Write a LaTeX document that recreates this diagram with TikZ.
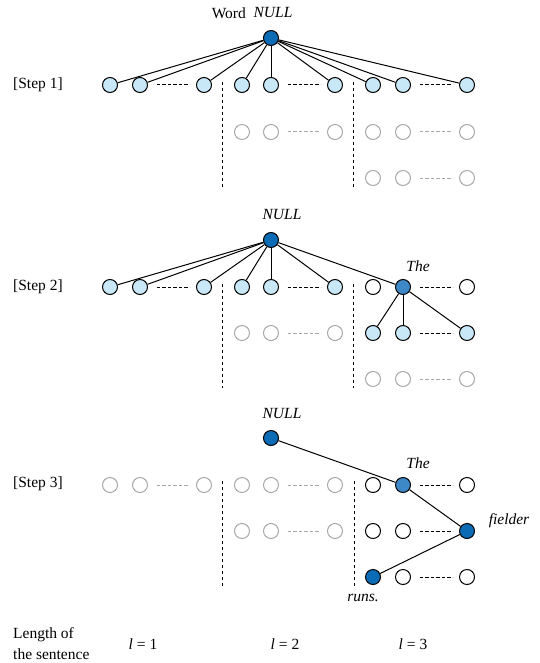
\documentclass[tikz,border=0pt]{standalone}
\usepackage{fontspec}
\setmainfont{Liberation Serif}
\definecolor{darkb}{HTML}{0B6BB5}
\definecolor{midb}{HTML}{3D89C8}
\definecolor{lightb}{HTML}{C8E8F8}
\definecolor{grayc}{HTML}{A8A8A8}
\begin{document}
\begin{tikzpicture}[x=1pt,y=-1pt,
  nd/.style={circle, draw=black, line width=1pt, minimum size=15pt, inner sep=0pt},
  lb/.style={nd, fill=lightb},
  gr/.style={nd, draw=grayc, fill=white},
  wh/.style={nd, fill=white},
  db/.style={nd, fill=darkb},
  mb/.style={nd, fill=midb},
  conn/.style={line width=1pt},
  gapline/.style={dash pattern=on 3.5pt off 2pt, line width=1pt, shorten <=8.5pt, shorten >=6.5pt},
  ggapline/.style={gapline, draw=grayc},
  divider/.style={dash pattern=on 3pt off 3pt, line width=1pt},
  txt/.style={font=\fontsize{15.5}{18}\selectfont, inner sep=0pt},
  itxt/.style={font=\fontsize{15.5}{18}\selectfont\itshape, inner sep=0pt}
]
\useasboundingbox (0,0) rectangle (539,663);
\def\ca{110}\def\cb{140}\def\cc{204}\def\cd{242}\def\ce{271}\def\cf{335}\def\cg{373}\def\ch{403}\def\ci{467}

% ---------------- Step 1
\node[db] (n1) at (271,38) {};
\node[txt, anchor=east] (word) at (246,13) {Word};
\node[itxt] (null1) at (273,13) {NULL};
\node[txt, anchor=west] (s1) at (13,85) {[Step 1]};
\foreach \i/\x in {1/\ca,2/\cb,3/\cc,4/\cd,5/\ce,6/\cf,7/\cg,8/\ch,9/\ci}
  \node[lb] (a\i) at (\x,85) {};
\foreach \i/\x in {4/\cd,5/\ce,6/\cf,7/\cg,8/\ch,9/\ci}
  \node[gr] (b\i) at (\x,132) {};
\foreach \i/\x in {7/\cg,8/\ch,9/\ci}
  \node[gr] (c\i) at (\x,178) {};
\foreach \i in {1,...,9} \draw[conn] (n1) -- (a\i);
\draw[gapline] (a2) -- (a3);
\draw[gapline] (a5) -- (a6);
\draw[gapline] (a8) -- (a9);
\draw[ggapline] (b5) -- (b6);
\draw[ggapline] (b8) -- (b9);
\draw[ggapline] (c8) -- (c9);
\coordinate (d1t) at (222,82); \coordinate (d1b) at (222,187);
\coordinate (d2t) at (353,82); \coordinate (d2b) at (353,187);
\draw[divider] (d1t) -- (d1b);
\draw[divider] (d2t) -- (d2b);

% ---------------- Step 2
\node[db] (n2) at (271,240) {};
\node[itxt] (null2) at (282,215) {NULL};
\node[txt, anchor=west] (s2) at (13,287) {[Step 2]};
\foreach \i/\x in {1/\ca,2/\cb,3/\cc,4/\cd,5/\ce,6/\cf}
  \node[lb] (e\i) at (\x,287) {};
\node[wh] (e7) at (\cg,287) {};
\node[mb] (e8) at (\ch,287) {};
\node[wh] (e9) at (\ci,287) {};
\node[itxt] (the2) at (418,266) {The};
\foreach \i/\x in {4/\cd,5/\ce,6/\cf}
  \node[gr] (f\i) at (\x,333) {};
\foreach \i/\x in {7/\cg,8/\ch,9/\ci}
  \node[lb] (f\i) at (\x,333) {};
\foreach \i/\x in {7/\cg,8/\ch,9/\ci}
  \node[gr] (g\i) at (\x,379) {};
\foreach \i in {1,...,6} \draw[conn] (n2) -- (e\i);
\draw[conn] (n2) -- (e8);
\foreach \i in {7,8,9} \draw[conn] (e8) -- (f\i);
\draw[gapline] (e2) -- (e3);
\draw[gapline] (e5) -- (e6);
\draw[gapline] (e8) -- (e9);
\draw[ggapline] (f5) -- (f6);
\draw[gapline] (f8) -- (f9);
\draw[ggapline] (g8) -- (g9);
\coordinate (d3t) at (222,284); \coordinate (d3b) at (222,388);
\coordinate (d4t) at (353,284); \coordinate (d4b) at (353,388);
\draw[divider] (d3t) -- (d3b);
\draw[divider] (d4t) -- (d4b);

% ---------------- Step 3
\node[db] (n3) at (271,438) {};
\node[itxt] (null3) at (282,413) {NULL};
\node[txt, anchor=west] (s3) at (13,484) {[Step 3]};
\foreach \i/\x in {1/\ca,2/\cb,3/\cc,4/\cd,5/\ce,6/\cf}
  \node[gr] (h\i) at (\x,485) {};
\node[wh] (h7) at (\cg,485) {};
\node[mb] (h8) at (\ch,485) {};
\node[wh] (h9) at (\ci,485) {};
\node[itxt] (the3) at (418,463) {The};
\foreach \i/\x in {4/\cd,5/\ce,6/\cf}
  \node[gr] (k\i) at (\x,531) {};
\node[wh] (k7) at (\cg,531) {};
\node[wh] (k8) at (\ch,531) {};
\node[db] (k9) at (\ci,531) {};
\node[itxt] (fielder) at (509,521) {fielder};
\node[db] (m7) at (\cg,577) {};
\node[wh] (m8) at (\ch,577) {};
\node[wh] (m9) at (\ci,577) {};
\node[itxt] (runs) at (363,598) {runs.};
\draw[conn] (n3) -- (h8);
\draw[conn] (h8) -- (k9);
\draw[conn] (k9) -- (m7);
\draw[ggapline] (h2) -- (h3);
\draw[ggapline] (h5) -- (h6);
\draw[gapline] (h8) -- (h9);
\draw[ggapline] (k5) -- (k6);
\draw[gapline] (k8) -- (k9);
\draw[gapline] (m8) -- (m9);
\coordinate (d5t) at (222,481); \coordinate (d5b) at (222,586);
\coordinate (d6t) at (354,481); \coordinate (d6b) at (354,586);
\draw[divider] (d5t) -- (d5b);
\draw[divider] (d6t) -- (d6b);

% ---------------- bottom
\node[txt, anchor=west] (len1) at (13,635) {Length of};
\node[txt, anchor=west] (len2) at (13,654) {the sentence};
\node[txt] (l1) at (143,644) {\textit{l} = 1};
\node[txt] (l2) at (285,644) {\textit{l} = 2};
\node[txt] (l3) at (413,644) {\textit{l} = 3};
\end{tikzpicture}
\end{document}
